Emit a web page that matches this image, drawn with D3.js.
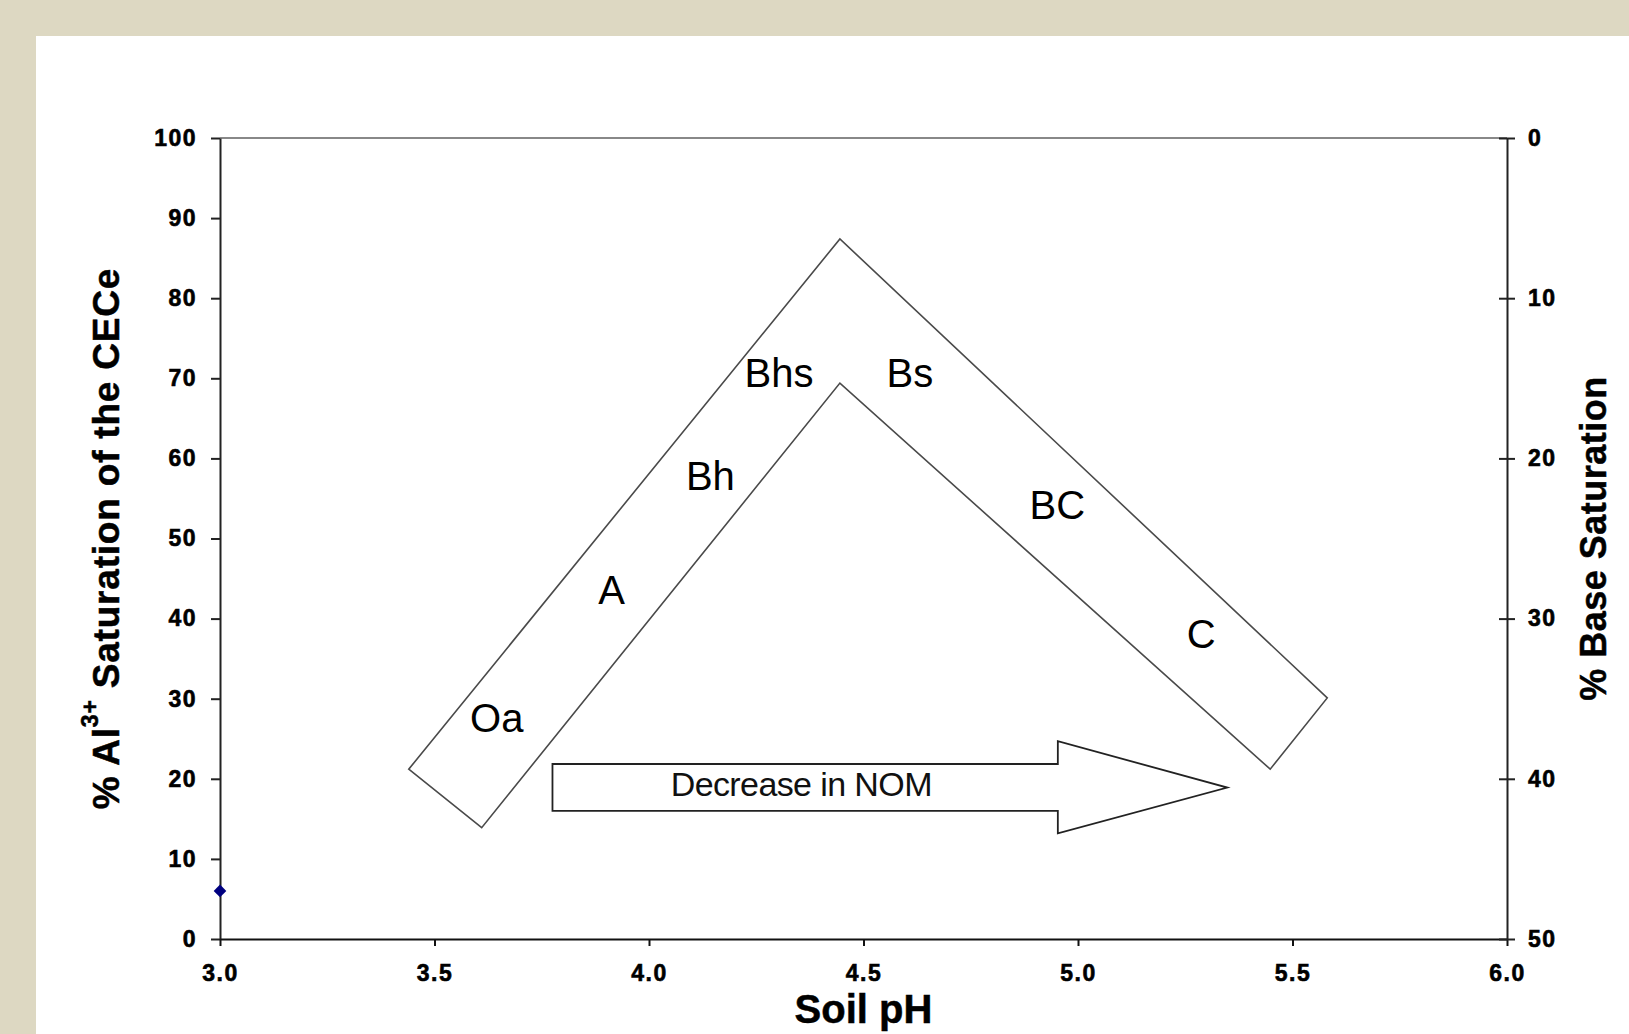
<!DOCTYPE html>
<html>
<head>
<meta charset="utf-8">
<script src="https://cdn.jsdelivr.net/npm/d3@7"></script>
<style>
  body { margin: 0; background: #ddd8c2; }
  svg { display: block; font-family: "Liberation Sans", Arial, sans-serif; }
</style>
</head>
<body>
<svg id="chart" width="1629" height="1034"></svg>
<script>
// tick values
const xTicks = [3.0, 3.5, 4.0, 4.5, 5.0, 5.5, 6.0];
const yTicks = [0, 10, 20, 30, 40, 50, 60, 70, 80, 90, 100];
const baseTicks = [0, 10, 20, 30, 40, 50];

// the single measured point
const pointPH = [3.0];
const pointAl = [6];

// bent band of horizons (outline, pH / % Al)
const bandPH = [3.44, 3.61, 4.445, 5.448, 5.581, 4.445];
const bandAl = [21.2, 13.9, 69.4, 21.2, 30.1, 87.4];

// horizon labels
const horizonNames = ["Oa", "A", "Bh", "Bhs", "Bs", "BC", "C"];
const horizonPH = [3.645, 3.913, 4.143, 4.303, 4.608, 4.952, 5.287];
const horizonAl = [25.8, 41.8, 56.1, 68.9, 68.9, 52.4, 36.3];

// NOM arrow outline
const arrowPH = [3.775, 4.953, 4.953, 5.348, 4.953, 4.953, 3.775];
const arrowAl = [21.85, 21.85, 24.7, 18.9, 13.2, 16.0, 16.0];
const arrowText = "Decrease in NOM";
const arrowTextPH = 4.355;
const arrowTextAl = 17.9;

const width = 1629;
const height = 1034;
const margin = { top: 138, right: 122, bottom: 95, left: 220 };

const svg = d3.select("#chart");

// white panel on the beige page
svg.append("rect")
    .attr("x", 36).attr("y", 36)
    .attr("width", width - 36).attr("height", height - 36)
    .attr("fill", "#ffffff");

const x = d3.scaleLinear()
    .domain([3, 6])
    .range([margin.left, width - margin.right]);

const y = d3.scaleLinear()
    .domain([0, 100])
    .range([height - margin.bottom, margin.top]);

const y2 = d3.scaleLinear()
    .domain([0, 50])
    .range([margin.top, height - margin.bottom]);

const tickFont = g => g.selectAll("text")
    .attr("font-family", "'Liberation Sans', Arial, sans-serif")
    .attr("font-size", 23)
    .attr("font-weight", "bold")
    .attr("letter-spacing", 1.5)
    .attr("stroke", "#000")
    .attr("stroke-width", 0.6)
    .attr("fill", "#000");

// top border
svg.append("line")
    .attr("x1", x(3)).attr("x2", x(6))
    .attr("y1", y(100)).attr("y2", y(100))
    .attr("stroke", "#888")
    .attr("stroke-width", 2);

// left axis
svg.append("g")
    .attr("transform", `translate(${margin.left},0)`)
    .call(d3.axisLeft(y).tickValues(yTicks).tickSize(9).tickSizeOuter(0).tickPadding(14).tickFormat(d3.format("d")))
    .call(tickFont)
    .call(g => g.selectAll("line, path").attr("stroke", "#222").attr("stroke-width", 2));

// bottom axis
svg.append("g")
    .attr("transform", `translate(0,${height - margin.bottom})`)
    .call(d3.axisBottom(x).tickValues(xTicks).tickSize(7).tickSizeOuter(0).tickPadding(19).tickFormat(d3.format(".1f")))
    .call(tickFont)
    .call(g => g.selectAll("line, path").attr("stroke", "#111").attr("stroke-width", 2));

// right axis, ticks cross the line
svg.append("g")
    .attr("transform", `translate(${width - margin.right},0)`)
    .call(d3.axisRight(y2).tickValues(baseTicks).tickSize(8).tickSizeOuter(0).tickPadding(13).tickFormat(d3.format("d")))
    .call(tickFont)
    .call(g => g.selectAll(".tick").append("line").attr("x2", -8))
    .call(g => g.selectAll("line, path").attr("stroke", "#222").attr("stroke-width", 2));

// band outline
const band = bandPH.map((p, i) => [x(p), y(bandAl[i])]);
svg.append("path")
    .attr("d", d3.line()(band) + "Z")
    .attr("fill", "none")
    .attr("stroke", "#4a4a4a")
    .attr("stroke-width", 1.6);

// arrow
const arrow = arrowPH.map((p, i) => [x(p), y(arrowAl[i])]);
svg.append("path")
    .attr("d", d3.line()(arrow) + "Z")
    .attr("fill", "#fff")
    .attr("stroke", "#222")
    .attr("stroke-width", 1.8);

svg.append("text")
    .attr("x", x(arrowTextPH))
    .attr("y", y(arrowTextAl))
    .attr("text-anchor", "middle")
    .attr("font-size", 34)
    .attr("letter-spacing", -0.6)
    .attr("fill", "#111")
    .text(arrowText);

// horizon labels
svg.append("g")
    .selectAll("text")
    .data(horizonNames)
    .join("text")
    .attr("x", (d, i) => x(horizonPH[i]))
    .attr("y", (d, i) => y(horizonAl[i]))
    .attr("text-anchor", "middle")
    .attr("font-size", 40)
    .attr("fill", "#000")
    .text(d => d);

// measured point (diamond)
svg.append("g")
    .selectAll("path")
    .data(pointPH)
    .join("path")
    .attr("transform", (d, i) => `translate(${x(d)},${y(pointAl[i])}) rotate(45)`)
    .attr("d", d3.symbol(d3.symbolSquare, 80))
    .attr("fill", "#000080");

// axis titles
svg.append("text")
    .attr("x", (x(3) + x(6)) / 2)
    .attr("y", 1023)
    .attr("text-anchor", "middle")
    .attr("font-size", 40)
    .attr("font-weight", "bold")
    .attr("stroke", "#000")
    .attr("stroke-width", 0.5)
    .text("Soil pH");

const leftTitle = svg.append("text")
    .attr("transform", `translate(119,${(y(0) + y(100)) / 2}) rotate(-90)`)
    .attr("text-anchor", "middle")
    .attr("font-size", 37)
    .attr("font-weight", "bold")
    .attr("letter-spacing", 0.8)
    .attr("stroke", "#000")
    .attr("stroke-width", 0.5);
leftTitle.append("tspan").text("% Al");
leftTitle.append("tspan").attr("dy", -21).attr("font-size", 23).text("3+");
leftTitle.append("tspan").attr("dy", 21).text(" Saturation of the CECe");

svg.append("text")
    .attr("transform", `translate(1606,${(y2(0) + y2(50)) / 2}) rotate(-90)`)
    .attr("text-anchor", "middle")
    .attr("font-size", 36)
    .attr("font-weight", "bold")
    .attr("letter-spacing", 0.5)
    .attr("stroke", "#000")
    .attr("stroke-width", 0.5)
    .text("% Base Saturation");
</script>
</body>
</html>
